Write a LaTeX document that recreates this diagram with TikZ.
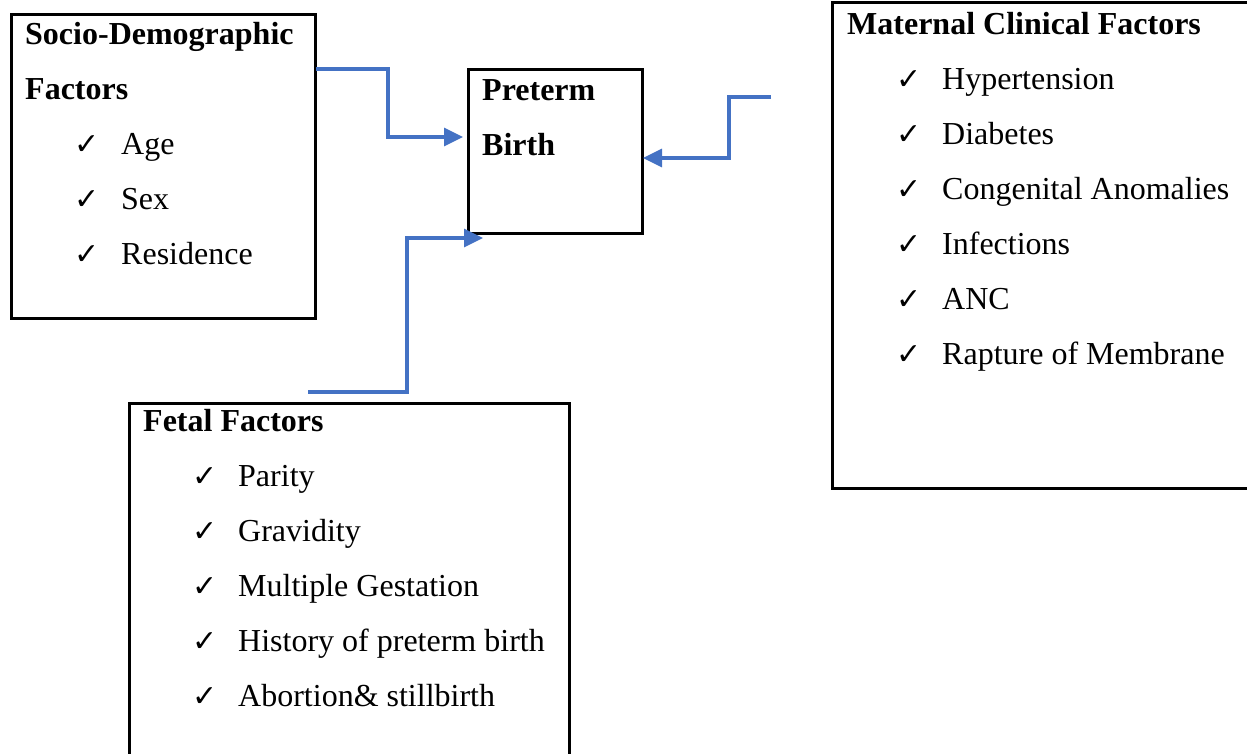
\documentclass[tikz,border=0pt]{standalone}
\usepackage{fontspec}
\setmainfont{Liberation Serif}
\newfontfamily\chkfont{DejaVu Sans}
\usetikzlibrary{arrows.meta}
\definecolor{linkblue}{RGB}{68,114,196}
\begin{document}
\begin{tikzpicture}[x=1pt,y=-1pt,
  box/.style={draw=black,line width=2.6pt,inner sep=0pt,anchor=north west},
  head/.style={anchor=base west,inner sep=0pt,font=\fontsize{32}{38}\selectfont\bfseries},
  item/.style={anchor=base west,inner sep=0pt,font=\fontsize{32}{38}\selectfont},
  chk/.style={anchor=base west,inner sep=0pt,font=\fontsize{30}{34}\chkfont\bfseries},
  conn/.style={draw=linkblue,line width=3.2pt,-{Triangle[length=19pt,width=18pt]}}]
\useasboundingbox (0,0) rectangle (1247,753);
\clip (0,0) rectangle (1247,753);
% boxes
\node[box,minimum width=304pt,minimum height=304pt] (sd) at (10,13) {};
\node[box,minimum width=174pt,minimum height=164pt] (pb) at (467,68) {};
\node[box,minimum width=429pt,minimum height=486pt] (mc) at (831,1) {};
\node[box,minimum width=440pt,minimum height=368pt] (ff) at (128,402) {};
% socio-demographic
\node[head] (sdh1) at (25,44) {Socio-Demographic};
\node[head] (sdh2) at (25,99) {Factors};
\foreach \t [count=\i] in {Age,Sex,Residence}{
  \node[chk] (sdc\i) at (74,{99+55*\i}) {✓};
  \node[item] (sdi\i) at (121,{99+55*\i}) {\t};
}
% preterm birth
\node[head] (pbh1) at (482,100) {Preterm};
\node[head] (pbh2) at (482,155) {Birth};
% maternal clinical
\node[head] (mch) at (847,34) {Maternal Clinical Factors};
\foreach \t [count=\i] in {Hypertension,Diabetes,Congenital Anomalies,Infections,ANC,Rapture of Membrane}{
  \node[chk] (mcc\i) at (896,{34+55*\i}) {✓};
  \node[item] (mci\i) at (942,{34+55*\i}) {\t};
}
% fetal
\node[head] (ffh) at (143,431) {Fetal Factors};
\foreach \t [count=\i] in {Parity,Gravidity,Multiple Gestation,History of preterm birth,Abortion\& stillbirth}{
  \node[chk] (ffc\i) at (192,{431+55*\i}) {✓};
  \node[item] (ffi\i) at (238,{431+55*\i}) {\t};
}
% connector end points
\coordinate (s1) at (316,69);
\coordinate (e1) at (463,137);
\coordinate (s2) at (771,97);
\coordinate (e2) at (643,158);
\coordinate (s3) at (308,392);
\coordinate (e3) at (483,238);
\draw[conn] (s1) -- (388,69) |- (e1);
\draw[conn] (s2) -- (729,97) |- (e2);
\draw[conn] (s3) -- (407,392) |- (e3);
\end{tikzpicture}
\end{document}
